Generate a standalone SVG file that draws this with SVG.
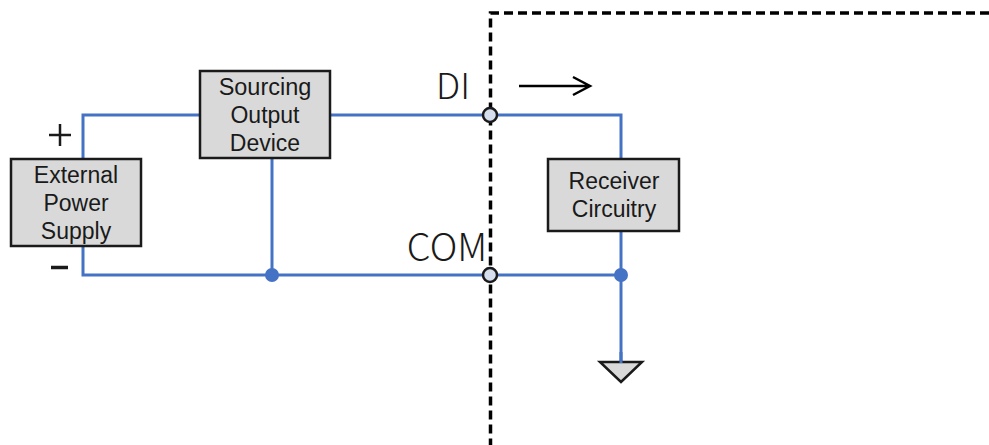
<svg xmlns="http://www.w3.org/2000/svg" width="989" height="445" viewBox="0 0 989 445">
<style>
.box{fill:#d9d9d9;stroke:#1a1a1a;stroke-width:2.500}
.t{font-family:"Liberation Sans",Arial,sans-serif;font-size:23px;fill:#1a1a1a;text-anchor:middle}
.l{font-family:"Noto Sans CJK SC","Noto Sans",sans-serif;font-weight:300;font-size:36px;fill:#1a1a1a;text-anchor:middle}
.w{fill:none;stroke:#4472c4;stroke-width:3;stroke-linejoin:miter}
.d{fill:none;stroke:#000;stroke-width:3.500;stroke-dasharray:9 5}
.dot{fill:#4472c4}
.port{fill:#d6dfee;stroke:#1a1a1a;stroke-width:2.500}
.s{fill:none;stroke:#000;stroke-width:2.500}
</style>
<rect width="989" height="445" fill="#fff"/>
<path id="boundary" class="d" d="M989 13H490.500V445"/>
<g id="connectors">
<path class="w" d="M83 159V115H200"/>
<path class="w" d="M331 115H621V159"/>
<path class="w" d="M83 247V275H621"/>
<path class="w" d="M272 159V275"/>
<path class="w" d="M621 232V362"/>
<path class="s" d="M519 86H589M573 77L590 86L573 95"/>
</g>
<g id="external-power-supply">
<rect class="box" x="11" y="159" width="130" height="87"/>
<text class="t" x="76" y="183">External</text>
<text class="t" x="76" y="211">Power</text>
<text class="t" x="76" y="239">Supply</text>
</g>
<g id="sourcing-output-device">
<rect class="box" x="200" y="71" width="130" height="87"/>
<text class="t" x="265" y="95" style="font-size:23.500px">Sourcing</text>
<text class="t" x="265" y="123">Output</text>
<text class="t" x="265" y="151">Device</text>
</g>
<g id="receiver-circuitry">
<rect class="box" x="548" y="159" width="131" height="72"/>
<text class="t" x="614" y="189">Receiver</text>
<text class="t" x="614" y="217">Circuitry</text>
</g>
<g id="plus"><path d="M49 135H71M60 124V146" fill="none" stroke="#1a1a1a" stroke-width="2.500"/></g>
<g id="minus"><path d="M51 267.500H68" stroke="#1a1a1a" stroke-width="3.500"/></g>
<g id="label-di"><text class="l" x="453" y="99">DI</text></g>
<g id="label-com"><text class="l" x="447" y="261" style="font-size:38px">COM</text></g>
<g id="junction-1"><circle class="dot" cx="272" cy="275" r="7"/></g>
<g id="junction-2"><circle class="dot" cx="621" cy="275" r="7"/></g>
<g id="port-di"><circle class="port" cx="490" cy="115" r="7"/></g>
<g id="port-com"><circle class="port" cx="490" cy="275" r="7"/></g>
<g id="ground"><path d="M600 362H642L621 382Z" fill="#d9d9d9" stroke="#1a1a1a" stroke-width="2.500"/><path class="w" d="M621 352V363"/></g>
</svg>
